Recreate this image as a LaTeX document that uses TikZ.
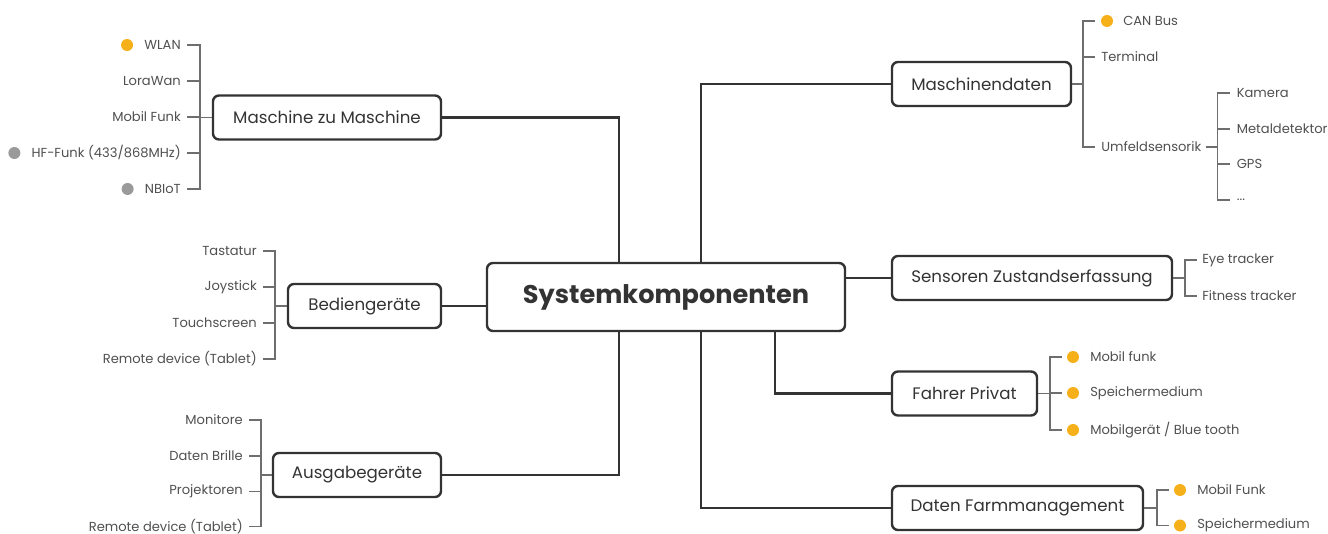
\documentclass[tikz,border=0pt]{standalone}
\usepackage{fontspec}
\setmainfont{Poppins}
\usetikzlibrary{calc}
\definecolor{dark}{HTML}{333333}
\definecolor{leafgray}{HTML}{505050}
\definecolor{linegray}{HTML}{6E6E6E}
\definecolor{orng}{HTML}{F5B01A}
\definecolor{bgray}{HTML}{9A9A9A}
\tikzset{
  box/.style={draw=dark, line width=1.8pt, rounded corners=4.5pt, minimum height=33pt, text=dark, font=\fontsize{12.5}{15}\selectfont, inner sep=0pt},
  sysbox/.style={box, minimum height=51pt, font=\fontsize{19.2}{22}\selectfont\bfseries},
  leaf/.style={text=leafgray, font=\fontsize{9.8}{11}\selectfont, inner sep=0pt},
  leafline/.style={draw=linegray, line width=0.9pt},
  conn/.style={draw=dark, line width=1.6pt},
  obul/.style={circle, fill=orng, minimum size=9pt, inner sep=0pt},
  gbul/.style={circle, fill=bgray, minimum size=9pt, inner sep=0pt}
}
\begin{document}
\begin{tikzpicture}[x=0.75pt, y=-0.75pt]
\useasboundingbox (0,0) rectangle (1328,534);
% central
\node[sysbox, minimum width=268.5pt] (sys) at (666,297) {Systemkomponenten};
% left boxes
\node[box, minimum width=171pt] (m2m) at (327,117.5) {Maschine zu Maschine};
\node[box, minimum width=114.75pt] (bed) at (364.5,306) {Bediengeräte};
\node[box, minimum width=126pt] (aus) at (357,475) {Ausgabegeräte};
% right boxes
\node[box, minimum width=134.25pt] (md) at (981.5,84) {Maschinendaten};
\node[box, minimum width=210pt] (sen) at (1032,278) {Sensoren Zustandserfassung};
\node[box, minimum width=108.75pt] (fp) at (964.5,393.5) {Fahrer Privat};
\node[box, minimum width=188.25pt] (dfm) at (1017.5,508) {Daten Farmmanagement};
% main connectors
\draw[conn] (m2m.east) -| ($(sys.north west)+(133,0)$);
\draw[conn] (bed.east) -- (bed.east -| sys.west);
\draw[conn] (aus.east) -| ($(sys.south west)+(133,0)$);
\draw[conn] (md.west) -| ($(sys.north west)+(215,0)$);
\draw[conn] (sen.west) -- (sen.west -| sys.east);
\draw[conn] (fp.west) -| ($(sys.south west)+(289,0)$);
\draw[conn] (dfm.west) -| ($(sys.south west)+(215,0)$);

% Maschine zu Maschine leaves
\coordinate (bm) at (200,117.5);
\draw[leafline] (m2m.west) -- (bm);
\node[leaf, anchor=east] (wlan) at (181,45) {WLAN};
\node[leaf, anchor=east] (lora) at (181,81) {LoraWan};
\node[leaf, anchor=east] (mfu) at (181,117) {Mobil Funk};
\node[leaf, anchor=east] (hf) at (181,153) {HF-Funk (433/868MHz)};
\node[leaf, anchor=east] (nb) at (181,189) {NBIoT};
\node[obul] (wlanb) at ($(wlan.west)+(-17,0)$) {};
\node[gbul] (hfb) at ($(hf.west)+(-17,0)$) {};
\node[gbul] (nbb) at ($(nb.west)+(-17,0)$) {};
\foreach \n in {wlan,lora,mfu,hf,nb}{\draw[leafline] ($(\n.east)+(6,0)$) -| (bm);}

% Bediengeraete leaves
\coordinate (bb) at (275,306);
\draw[leafline] (bed.west) -- (bb);
\node[leaf, anchor=east] (tast) at (257,251) {Tastatur};
\node[leaf, anchor=east] (joy) at (257,287) {Joystick};
\node[leaf, anchor=east] (touch) at (257,323) {Touchscreen};
\node[leaf, anchor=east] (rem1) at (257,359) {Remote device (Tablet)};
\foreach \n in {tast,joy,touch,rem1}{\draw[leafline] ($(\n.east)+(6,0)$) -| (bb);}

% Ausgabegeraete leaves
\coordinate (ba) at (261,475);
\draw[leafline] (aus.west) -- (ba);
\node[leaf, anchor=east] (mon) at (243,420) {Monitore};
\node[leaf, anchor=east] (dbr) at (243,456) {Daten Brille};
\node[leaf, anchor=east] (proj) at (243,491.5) {Projektoren};
\node[leaf, anchor=east] (rem2) at (243,526.5) {Remote device (Tablet)};
\foreach \n in {mon,dbr,proj,rem2}{\draw[leafline] ($(\n.east)+(6,0)$) -| (ba);}

% Maschinendaten leaves
\coordinate (bmd) at (1083,84);
\draw[leafline] (md.east) -- (bmd);
\node[leaf, anchor=west] (can) at (1123,21) {CAN Bus};
\node[obul] (canb) at ($(can.west)+(-16,0)$) {};
\node[leaf, anchor=west] (term) at (1101,57) {Terminal};
\node[leaf, anchor=west] (umf) at (1101,147) {Umfeldsensorik};
\draw[leafline] (bmd) |- ($(can.west)+(-28,0)$);
\draw[leafline] (bmd) |- ($(term.west)+(-6,0)$);
\draw[leafline] (bmd) |- ($(umf.west)+(-6,0)$);
\coordinate (bu) at ($(umf.east)+(16,0)$);
\draw[leafline] ($(umf.east)+(4,0)$) -- (bu);
\node[leaf, anchor=west] (kam) at ($(bu)+(19,-54)$) {Kamera};
\node[leaf, anchor=west] (met) at ($(bu)+(19,-18)$) {Metaldetektor};
\node[leaf, anchor=west] (gps) at ($(bu)+(19,17)$) {GPS};
\node[leaf, anchor=west] (dots) at ($(bu)+(19,53)$) {...};
\foreach \n in {kam,met,gps,dots}{\draw[leafline] (bu) |- ($(\n.west)+(-7,0)$);}

% Sensoren leaves
\coordinate (bs) at (1185,278);
\draw[leafline] (sen.east) -- (bs);
\node[leaf, anchor=west] (eye) at (1202,260) {Eye tracker};
\node[leaf, anchor=west] (fit) at (1202,296) {Fitness tracker};
\foreach \n in {eye,fit}{\draw[leafline] (bs) |- ($(\n.west)+(-5,0)$);}

% Fahrer Privat leaves
\coordinate (bf) at (1050,393.5);
\draw[leafline] (fp.east) -- (bf);
\node[leaf, anchor=west] (fmob) at (1090,357) {Mobil funk};
\node[leaf, anchor=west] (fspe) at (1090,393) {Speichermedium};
\node[leaf, anchor=west] (fbt) at (1090,430) {Mobilgerät / Blue tooth};
\foreach \n in {fmob,fspe,fbt}{
  \node[obul] at ($(\n.west)+(-17,0)$) {};
  \draw[leafline] (bf) |- ($(\n.west)+(-28,0)$);}

% Daten Farmmanagement leaves
\coordinate (bd) at (1157,508);
\draw[leafline] (dfm.east) -- (bd);
\node[leaf, anchor=west] (dmob) at (1197,490) {Mobil Funk};
\node[leaf, anchor=west] (dspe) at (1197,525.5) {Speichermedium};
\foreach \n in {dmob,dspe}{
  \node[obul] at ($(\n.west)+(-17,0)$) {};
  \draw[leafline] (bd) |- ($(\n.west)+(-28,0)$);}
\end{tikzpicture}
\end{document}
